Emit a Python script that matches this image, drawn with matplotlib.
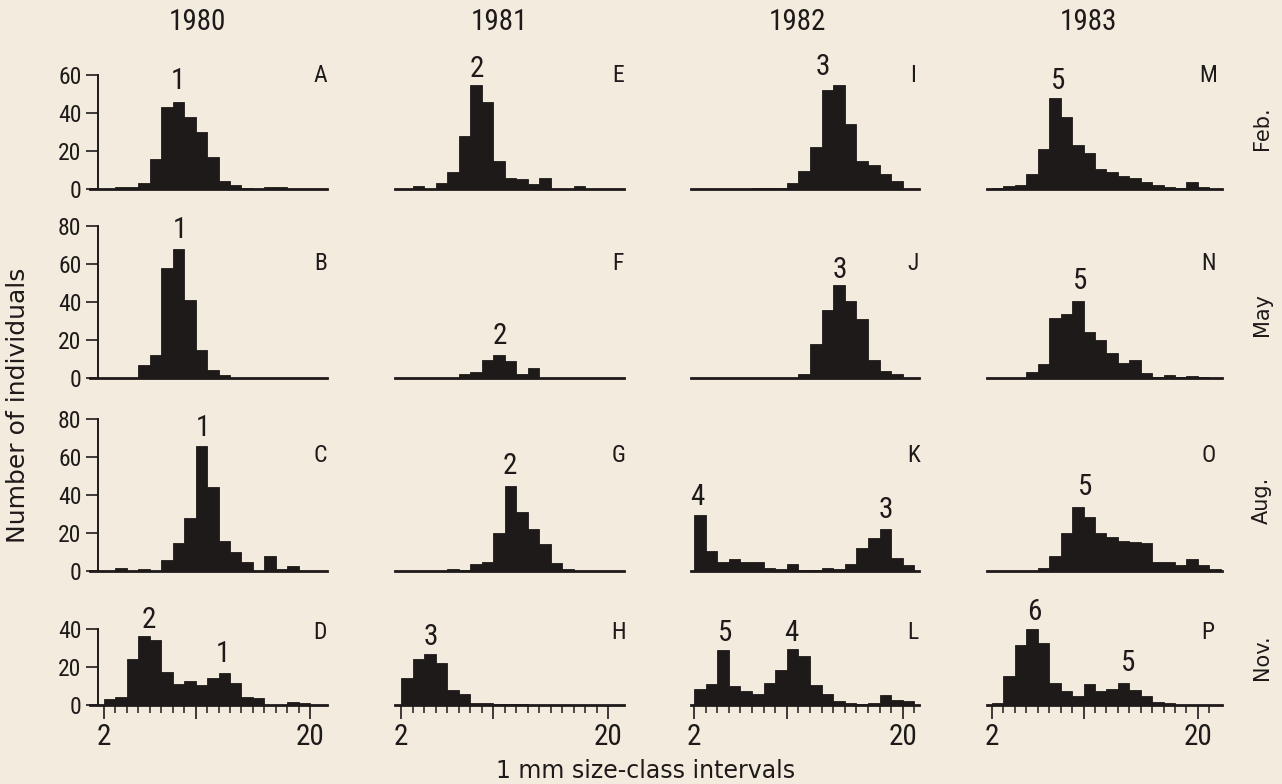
"""Size-frequency histograms, 1 mm classes, by year and month (panels A-P)."""

import matplotlib
matplotlib.use('Agg')
import matplotlib.pyplot as plt
from matplotlib import font_manager as fm

W, H = 1282, 784

BG = '#f3ecde'
INK = '#1e1a1a'
PLAIN = ['DejaVu Sans']

# ── data ──
size_classes = list(range(2, 22))  # lower edge of each 1 mm class
years = ['1980', '1981', '1982', '1983']
months = ['Feb.', 'May', 'Aug.', 'Nov.']
letters = ['ABCD', 'EFGH', 'IJKL', 'MNOP']

# number of individuals per class, 2..21 mm
panel_a = [0, 1, 1.2, 3, 16, 43, 46, 38, 30, 17, 4, 2, 0.7, 0, 1, 1, 0, 0, 0, 0]
panel_b = [0, 0, 0, 7, 12, 58, 68, 41, 14.5, 4.4, 1.8, 0, 0, 0, 0, 0, 0, 0, 0, 0]
panel_c = [0, 1.5, 0, 1.2, 0, 5.6, 15, 28, 66, 44, 16, 10, 5, 0, 8, 1, 2.5, 0, 0, 0]
panel_d = [3, 4.3, 24, 36.5, 34.4, 17.4, 11.3, 12.7, 10.4, 14, 16.7, 11.8, 4.3, 3.5, 0, 0, 1.7, 1.2, 0, 0]
panel_e = [0, 1.7, 0, 3, 9, 28, 55, 46, 15, 6, 5.2, 2.6, 6, 0, 0, 1.7, 0, 0, 0, 0]
panel_f = [0, 0, 0, 0, 0, 2, 3, 9.5, 12, 9, 2, 5, 0, 0, 0, 0, 0, 0, 0, 0]
panel_g = [0, 0, 0, 0, 1, 0.3, 3.5, 4.5, 20, 45, 31, 22, 14, 4.4, 1.2, 0, 0, 0, 0, 0]
panel_h = [14.3, 24.3, 27, 22, 7.8, 6, 0.9, 0.9, 0.3, 0.3, 0.5, 0, 0, 0, 0, 0, 0, 0, 0, 0]
panel_i = [0, 0, 0, 0, 0, 0.4, 0.4, 0.4, 3, 9.4, 22, 52, 55, 34, 15, 12.5, 8, 4, 0, 0]
panel_j = [0, 0, 0, 0, 0, 0, 0, 0, 0, 2, 17.7, 36, 48.7, 40.7, 31, 9.7, 3.5, 2, 0, 0]
panel_k = [29.3, 10.5, 4.7, 6.5, 4.7, 4.7, 1.8, 0.9, 3.5, 0.5, 0.5, 1.6, 1.2, 3.9, 12.3, 17.5, 22, 7, 3, 0]
panel_l = [8.2, 11, 29, 10, 7.3, 5.6, 11.7, 18.3, 29.6, 26, 10.4, 5.7, 2.3, 0.9, 0.4, 1.2, 5.2, 2.6, 2.3, 0]
panel_m = [0.5, 1.5, 2, 7.8, 21, 48, 38, 23, 19, 10.6, 8.9, 7, 6, 3.7, 2.3, 0.9, 0.5, 3.5, 1, 0]
panel_n = [0, 0, 0, 3.2, 7.6, 31.5, 33.6, 40.4, 24, 20, 12.9, 8, 9.4, 2.5, 0.5, 1.5, 0.5, 1, 0.5, 0]
panel_o = [0, 0, 0, 0, 1.6, 7.7, 20, 33.7, 28.4, 20.2, 17.9, 16, 15.3, 14.9, 4.7, 4.7, 3.3, 6.1, 3.3, 1.2]
panel_p = [1.2, 15.5, 31.7, 39.8, 32.5, 11.7, 7.3, 5, 11.3, 7.3, 8.5, 11.7, 7.8, 4.7, 1.6, 0.9, 0, 0, 0, 0]

panels = [
    [panel_a, panel_b, panel_c, panel_d],
    [panel_e, panel_f, panel_g, panel_h],
    [panel_i, panel_j, panel_k, panel_l],
    [panel_m, panel_n, panel_o, panel_p],
]

# cohort tags: (panel letter, tag, x in mm, y in counts)
cohort_tags = [
    ('A', '1', 8.5, 57), ('B', '1', 8.6, 78), ('C', '1', 10.6, 75),
    ('D', '2', 5.9, 45), ('D', '1', 12.4, 27),
    ('E', '2', 8.6, 63), ('F', '2', 10.6, 22), ('G', '2', 11.5, 55),
    ('H', '3', 4.6, 36),
    ('I', '3', 13.1, 64), ('J', '3', 14.6, 57),
    ('K', '4', 2.3, 39), ('K', '3', 18.5, 32),
    ('L', '5', 4.7, 38), ('L', '4', 10.4, 38),
    ('M', '5', 7.8, 57), ('N', '5', 9.7, 51), ('O', '5', 10.1, 44),
    ('P', '6', 5.7, 49), ('P', '5', 13.9, 22),
]

# ── layout (pixels) ──
COL_X2 = [104, 401, 694, 992]          # pixel of x = 2 mm
COL_PX_MM = [11.45, 11.5, 11.6, 11.44]
COL_XLIM = [(0.8, 21.5), (1.5, 21.4), (1.7, 21.4), (1.6, 22.1)]
ROW_BASE = [189, 378, 571, 705]        # pixel of y = 0
ROW_TOP = [60, 80, 80, 40]
PX_PER_COUNT = 1.9
LETTER_Y = [60, 60, 61, 38]
TITLE_X = [197, 499, 797, 1088]
MONTH_Y = [128, 315, 500, 657]


def pick_narrow_font():
    """Find a condensed sans face; the original lettering is a narrow grotesque."""
    names = {f.name for f in fm.fontManager.ttflist}
    for name in ('Liberation Sans Narrow', 'Roboto Condensed', 'Open Sans Condensed',
                 'Noto Sans Condensed', 'DejaVu Sans Condensed', 'Arial Narrow'):
        if name in names:
            return name, 'normal'
    for f in fm.fontManager.ttflist:
        low = f.fname.lower()
        if ('condensed' in low or 'narrow' in low) and 'bold' not in low \
                and 'italic' not in low and 'oblique' not in low and 'serif' not in low \
                and 'mono' not in low and 'light' not in low and 'semi' not in low:
            return f.name, 'condensed'
    return 'Liberation Sans', 'normal'


def main():
    family, stretch = pick_narrow_font()
    plt.rcParams['font.family'] = [family, 'DejaVu Sans']
    plt.rcParams['font.stretch'] = stretch

    fig = plt.figure(figsize=(W / 100, H / 100), dpi=100)
    fig.patch.set_facecolor(BG)

    axes = {}
    for c in range(4):
        xl, xr = COL_XLIM[c]
        left = COL_X2[c] + (xl - 2) * COL_PX_MM[c]
        width = (xr - xl) * COL_PX_MM[c]
        for r in range(4):
            height = ROW_TOP[r] * PX_PER_COUNT
            ax = fig.add_axes([left / W, (H - ROW_BASE[r]) / H, width / W, height / H])
            ax.set_facecolor('none')
            ax.bar(size_classes, panels[c][r], width=1.0, align='edge',
                   color=INK, edgecolor=INK, linewidth=0.6)
            ax.set_xlim(xl, xr)
            ax.set_ylim(0, ROW_TOP[r])
            for side in ('top', 'right'):
                ax.spines[side].set_visible(False)
            ax.spines['bottom'].set_linewidth(2.0)
            ax.spines['bottom'].set_color(INK)

            if c == 0:
                ax.spines['left'].set_position(('data', 1.5))
                ax.spines['left'].set_bounds(0, ROW_TOP[r])
                ax.spines['left'].set_linewidth(1.4)
                ax.spines['left'].set_color(INK)
                ax.set_yticks(range(0, ROW_TOP[r] + 1, 20))
                ax.tick_params(axis='y', direction='out', length=9, width=1.2,
                               labelsize=17, pad=3, colors=INK)
            else:
                ax.spines['left'].set_visible(False)
                ax.set_yticks([])

            if r == 3:
                last = 21 if c >= 2 else 20
                ax.set_xticks([2, 10, 20])
                ax.set_xticklabels(['2', '', '20'])
                ax.set_xticks(range(2, last + 1), minor=True)
                ax.tick_params(axis='x', which='major', direction='out', length=10,
                               width=1.2, labelsize=21, pad=3, colors=INK)
                ax.tick_params(axis='x', which='minor', direction='out', length=6,
                               width=1.1, colors=INK)
            else:
                ax.set_xticks([])

            letter = letters[c][r]
            ax.text(20.9, LETTER_Y[r], letter, ha='center', va='center',
                    fontsize=17, color=INK)
            axes[letter] = ax

    for letter, tag, x, y in cohort_tags:
        axes[letter].text(x, y, tag, ha='center', va='center', fontsize=21, color=INK)

    for c, year in enumerate(years):
        fig.text(TITLE_X[c] / W, 1 - 22 / H, year, ha='center', va='center',
                 fontsize=21, color=INK)
    for r, month in enumerate(months):
        fig.text(1262 / W, 1 - MONTH_Y[r] / H, month, rotation=90, ha='center',
                 va='center', fontsize=15, color=INK, family=PLAIN, stretch='normal')

    fig.text(18 / W, 1 - 405 / H, 'Number of individuals', rotation=90,
             ha='center', va='center', fontsize=18, color=INK, family=PLAIN,
             stretch='normal')
    fig.text(646 / W, 1 - 771 / H, '1 mm size-class intervals', ha='center',
             va='center', fontsize=17, color=INK, family=PLAIN, stretch='normal')

    fig.savefig('out.png', dpi=100, facecolor=BG)


if __name__ == '__main__':
    main()
